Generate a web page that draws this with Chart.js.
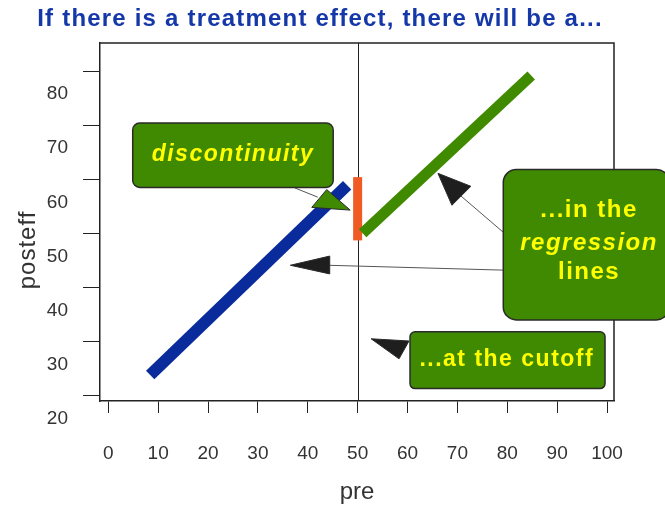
<!DOCTYPE html>
<html>
<head>
<meta charset="utf-8">
<script src="https://cdn.jsdelivr.net/npm/chart.js@4"></script>
<style>
  body { margin: 0; background: #fff; }
  #wrap { width: 665px; height: 510px; }
</style>
</head>
<body>
<div id="wrap"><canvas id="chart" width="665" height="510"></canvas></div>
<script>
// tick labels
var xTicks = [0, 10, 20, 30, 40, 50, 60, 70, 80, 90, 100];
var yTicks = [20, 30, 40, 50, 60, 70, 80];
var cutoff = 50;

// regression line below the cutoff (control)
var preLow = [8.4, 47.9];
var postLow = [23.8, 58.9];
// regression line above the cutoff (treatment)
var preHigh = [51.0, 84.8];
var postHigh = [50.0, 79.2];
// jump at the cutoff
var preJump = [50, 50];
var postJump = [48.7, 60.4];

function pts(xs, ys) {
    return xs.map(function (x, i) { return {x: x, y: ys[i]}; });
}

// callouts, in data units
var boxes = [
    {x0: 4.9, x1: 45.1, y0: 70.4, y1: 58.5, r: 7, lines: [['discontinuity', 'italic bold 23px']], cx: 25, cy: [64.5]},
    {x0: 79.2, x1: 112.5, y0: 61.8, y1: 34.0, r: 13,
        lines: [['...in the', 'bold 24px'], ['regression', 'italic bold 24px'], ['lines', 'bold 24px']],
        cx: 96.4, cy: [54.3, 48.2, 42.7]},
    {x0: 60.5, x1: 99.6, y0: 31.8, y1: 21.3, r: 5, lines: [['...at the cutoff', 'bold 23px']], cx: 79.9, cy: [26.6]}
];
var leaders = [
    [[37.4, 58.4], [42.0, 56.7]],
    [[79.2, 50.2], [70.6, 57.0]],
    [[79.2, 43.2], [44.0, 44.1]]
];
var heads = [
    {fill: '#3f8a00', p: [[43.8, 58.1], [40.8, 54.8], [48.5, 54.3]]},
    {fill: '#1e1e1e', p: [[66.1, 61.1], [72.7, 58.7], [68.9, 55.2]]},
    {fill: '#1e1e1e', p: [[36.5, 44.1], [44.4, 45.8], [44.4, 42.5]]},
    {fill: '#1e1e1e', p: [[52.7, 30.5], [60.3, 30.1], [58.3, 26.8]]}
];

var extras = {
    id: 'extras',
    beforeDatasetsDraw: function (chart) {
        var ctx = chart.ctx, a = chart.chartArea;
        var x = chart.scales.x.getPixelForValue(cutoff);
        ctx.save();
        ctx.strokeStyle = '#222';
        ctx.lineWidth = 1;
        ctx.beginPath();
        ctx.moveTo(Math.round(x) + 0.5, a.top);
        ctx.lineTo(Math.round(x) + 0.5, a.bottom);
        ctx.stroke();
        ctx.restore();
    },
    afterDatasetsDraw: function (chart) {
        var ctx = chart.ctx, a = chart.chartArea;
        var sx = chart.scales.x, sy = chart.scales.y;
        function px(p) { return [sx.getPixelForValue(p[0]), sy.getPixelForValue(p[1])]; }
        ctx.save();
        // frame top and right
        ctx.strokeStyle = '#222';
        ctx.lineWidth = 1.5;
        ctx.beginPath();
        ctx.moveTo(a.left, a.top);
        ctx.lineTo(a.right, a.top);
        ctx.lineTo(a.right, a.bottom);
        ctx.stroke();

        // leader lines
        ctx.strokeStyle = '#555';
        ctx.lineWidth = 1;
        leaders.forEach(function (l) {
            var p0 = px(l[0]), p1 = px(l[1]);
            ctx.beginPath();
            ctx.moveTo(p0[0], p0[1]);
            ctx.lineTo(p1[0], p1[1]);
            ctx.stroke();
        });
        // arrow heads
        heads.forEach(function (h) {
            ctx.beginPath();
            h.p.forEach(function (p, i) {
                var q = px(p);
                if (i === 0) ctx.moveTo(q[0], q[1]); else ctx.lineTo(q[0], q[1]);
            });
            ctx.closePath();
            ctx.fillStyle = h.fill;
            ctx.fill();
            ctx.strokeStyle = '#2a2a2a';
            ctx.stroke();
        });
        // boxes
        ctx.letterSpacing = '1.5px';
        boxes.forEach(function (b) {
            var l = sx.getPixelForValue(b.x0), r = sx.getPixelForValue(b.x1);
            var t = sy.getPixelForValue(b.y0), btm = sy.getPixelForValue(b.y1);
            ctx.beginPath();
            ctx.roundRect(l, t, r - l, btm - t, b.r);
            ctx.fillStyle = '#3f8a00';
            ctx.fill();
            ctx.strokeStyle = '#2a2a2a';
            ctx.lineWidth = 1.5;
            ctx.stroke();
            ctx.fillStyle = '#ffff00';
            ctx.textAlign = 'center';
            ctx.textBaseline = 'middle';
            b.lines.forEach(function (ln, i) {
                ctx.font = ln[1] + ' "Liberation Sans", Arial, sans-serif';
                ctx.fillText(ln[0], sx.getPixelForValue(b.cx), sy.getPixelForValue(b.cy[i]));
            });
        });

        // title and y axis name
        ctx.fillStyle = '#1438a8';
        ctx.letterSpacing = '1.2px';
        ctx.font = 'bold 24px "Liberation Sans", Arial, sans-serif';
        ctx.textAlign = 'center';
        ctx.textBaseline = 'middle';
        ctx.fillText('If there is a treatment effect, there will be a...', 320, 19);

        ctx.fillStyle = '#333';
        ctx.letterSpacing = '1px';
        ctx.font = '24px "Liberation Sans", Arial, sans-serif';
        ctx.translate(28, 250);
        ctx.rotate(-Math.PI / 2);
        ctx.fillText('posteff', 0, 0);
        ctx.restore();
    }
};

new Chart(document.getElementById('chart'), {
    type: 'line',
    data: {
        datasets: [
            {data: pts(preLow, postLow), borderColor: '#0a2b9c', borderWidth: 12},
            {data: pts(preHigh, postHigh), borderColor: '#408a00', borderWidth: 11},
            {data: pts(preJump, postJump), borderColor: '#f05a24', borderWidth: 9}
        ]
    },
    options: {
        responsive: false,
        devicePixelRatio: 1,
        animation: false,
        layout: {padding: {top: 43, right: 51, left: 0, bottom: 0}},
        elements: {point: {radius: 0}, line: {tension: 0, borderCapStyle: 'butt'}},
        plugins: {legend: {display: false}, tooltip: {enabled: false}},
        scales: {
            x: {
                type: 'linear',
                min: -1.66,
                max: 101.4,
                afterBuildTicks: function (s) { s.ticks = xTicks.map(function (v) { return {value: v}; }); },
                afterFit: function (s) { s.height = 109; },
                border: {color: '#222', width: 1.5},
                grid: {drawOnChartArea: false, tickLength: 12, color: '#222'},
                ticks: {padding: 29, color: '#333', font: {size: 19, family: '"Liberation Sans", Arial, sans-serif'}},
                title: {display: true, text: 'pre', color: '#333', padding: {bottom: 3},
                    font: {size: 24, family: '"Liberation Sans", Arial, sans-serif'}}
            },
            y: {
                type: 'linear',
                min: 19.0,
                max: 85.2,
                afterBuildTicks: function (s) { s.ticks = yTicks.map(function (v) { return {value: v}; }); },
                afterFit: function (s) { s.width = 100; },
                border: {color: '#222', width: 1.5},
                grid: {drawOnChartArea: false, tickLength: 17, color: '#222'},
                ticks: {padding: 15, labelOffset: 23, color: '#333', font: {size: 19, family: '"Liberation Sans", Arial, sans-serif'}}
            }
        }
    },
    plugins: [extras]
});
</script>
</body>
</html>
